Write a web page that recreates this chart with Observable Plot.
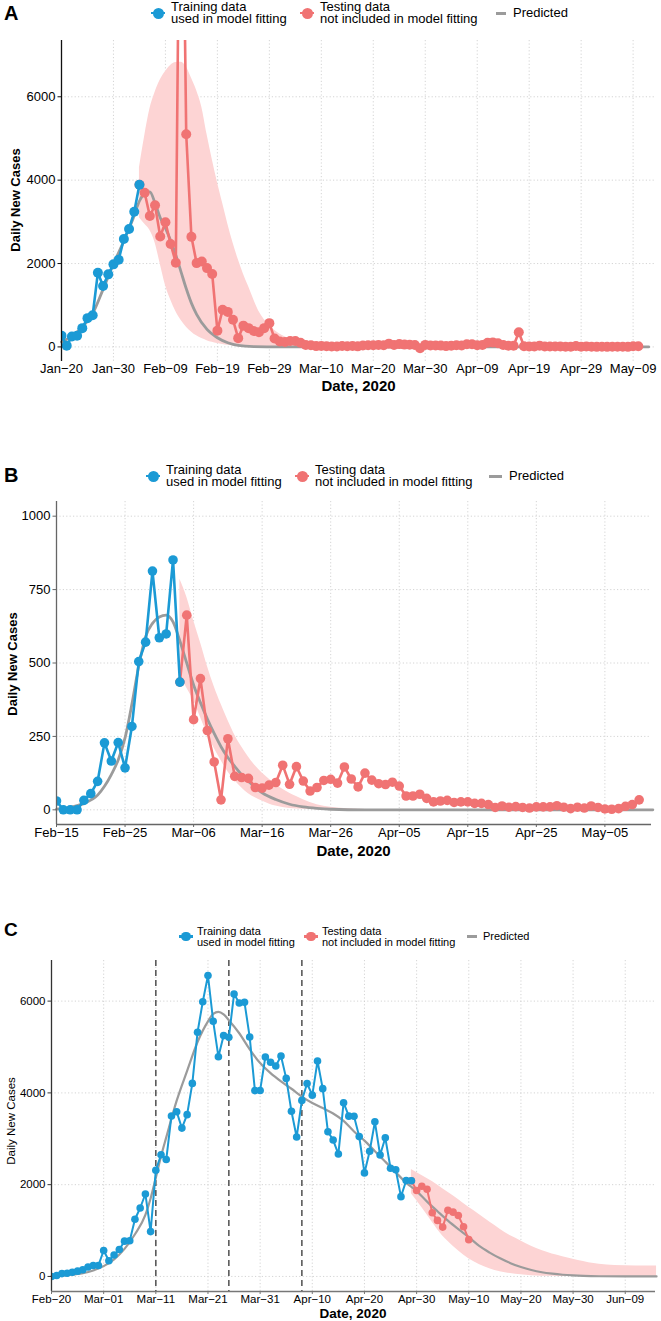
<!DOCTYPE html>
<html><head><meta charset="utf-8">
<script src="https://cdn.jsdelivr.net/npm/d3@7"></script>
<script src="https://cdn.jsdelivr.net/npm/@observablehq/plot@0.6"></script>
<style>
html,body{margin:0;padding:0;background:#fff;}
#root{position:relative;width:661px;height:1321px;overflow:hidden;font-family:"Liberation Sans",Arial,Helvetica,sans-serif;color:#000;}
.abs{position:absolute;white-space:nowrap;}
</style></head><body><div id="root"></div>
<script>
// ---------- Panel A (start 2020-01-20) ----------
const aStart = "2020-01-20";
const aCases = [270, 30, 250, 270, 450, 690, 760, 1780, 1460, 1740,
 1980, 2090, 2590, 2830, 3240, 3890, 3700, 3140, 3400, 2650,
 2990, 2470, 2020, 15150, 5100, 2640, 2010, 2050, 1890, 1750,
 390, 890, 840, 650, 210, 510, 450, 380, 350, 450,
 570, 200, 130, 120, 140, 140, 99, 44, 40, 19,
 24, 15, 8, 11, 20, 16, 21, 13, 34, 39,
 41, 46, 39, 78, 47, 67, 55, 54, 45, -30,
 48, 36, 35, 31, 19, 30, 39, 32, 62, 63,
 42, 46, 99, 108, 89, 46, 26, 27, 352, 16,
 12, 11, 30, 10, 10, 12, 11, 3, 6, 22,
 4, 12, 2, 1, 3, 1, 2, 2, 4, 1,
 14, 17];
const aTrainLast = 15;
const aPredDay = [0,2,4,6,8,10,12,14,15,16,17,18,19,20,21,22,23,24,25,26,28,30,32,34,37,42,113];
const aPredVal = [120,260,480,800,1380,1990,2540,3150,3500,3680,3720,3450,3100,2850,2550,2200,1800,1400,1050,780,420,220,100,35,8,0,0];
const aBandDay = [15,16,17,18,19,20,21,22,23,24,25,26,27,28,29,30,31,32,33,34,35,36,38,40,42,44,46,50,55,60,113];
const aBandHi = [4300,5050,5700,6100,6400,6600,6750,6820,6830,6720,6450,6150,5750,5100,4500,3950,3450,2950,2500,2100,1750,1450,850,520,310,190,110,50,15,0,0];
const aBandLo = [3100,2950,2800,2500,1990,1480,1130,850,640,480,360,265,200,150,110,80,58,40,25,16,10,6,2,0,0,0,0,0,0,0,0];
const aXTicks = ["2020-01-20","2020-01-30","2020-02-09","2020-02-19","2020-02-29","2020-03-10","2020-03-20","2020-03-30","2020-04-09","2020-04-19","2020-04-29","2020-05-09"];
const aXLabels = ["Jan−20","Jan−30","Feb−09","Feb−19","Feb−29","Mar−10","Mar−20","Mar−30","Apr−09","Apr−19","Apr−29","May−09"];
const aYTicks = [0,2000,4000,6000];

// ---------- Panel B (start 2020-02-15) ----------
const bStart = "2020-02-15";
const bCases = [30, 0, 0, 0, 32, 55, 97, 228, 166, 229,
 143, 284, 505, 571, 813, 586, 599, 851, 435, 663,
 307, 447, 270, 163, 34, 242, 114, 110, 107, 76,
 74, 84, 93, 152, 87, 147, 98, 64, 76, 100,
 104, 91, 146, 105, 78, 125, 101, 89, 86, 94,
 81, 47, 47, 53, 39, 27, 30, 32, 25, 27,
 27, 22, 22, 18, 8, 13, 9, 11, 8, 6,
 10, 10, 10, 14, 9, 4, 9, 6, 13, 8,
 3, 2, 4, 12, 18, 34];
const bTrainLast = 18;
const bPredDay = [0,2,4,6,7,8,9,10,11,12,13,14,15,16,17,18,19,20,21,22,23,24,25,26,27,28,30,32,34,36,38,40,45,87];
const bPredVal = [2,8,22,50,80,120,170,245,360,490,590,635,657,663,640,575,500,425,365,310,260,215,178,148,120,97,58,35,19,10,5,2,0,0];
const bBandDay = [18,19,20,21,22,23,24,25,26,27,28,29,30,31,33,35,37,39,41,44,50,87];
const bBandHi = [785,725,645,570,490,420,360,305,255,215,180,150,125,105,70,45,25,12,6,2,0,0];
const bBandLo = [460,415,373,315,259,210,168,130,100,75,55,41,30,20,8,3,1,0,0,0,0,0];
const bXTicks = ["2020-02-15","2020-02-25","2020-03-06","2020-03-16","2020-03-26","2020-04-05","2020-04-15","2020-04-25","2020-05-05"];
const bXLabels = ["Feb−15","Feb−25","Mar−06","Mar−16","Mar−26","Apr−05","Apr−15","Apr−25","May−05"];
const bYTicks = [0,250,500,750,1000];

// ---------- Panel C (start 2020-02-20) ----------
const cStart = "2020-02-20";
const cCases = [0, 20, 62, 70, 90, 115, 145, 205, 238, 240,
 566, 342, 466, 587, 769, 778, 1247, 1492, 1797, 977,
 2313, 2651, 2547, 3497, 3590, 3233, 3526, 4207, 5322, 5986,
 6557, 5560, 4789, 5249, 5210, 6153, 5959, 5974, 5217, 4050,
 4053, 4782, 4668, 4585, 4805, 4316, 3599, 3039, 3836, 4204,
 3951, 4694, 4092, 3153, 2972, 2667, 3786, 3493, 3491, 3047,
 2256, 2729, 3370, 2646, 3021, 2357, 2324, 1739, 2091, 2086,
 1872, 1965, 1900, 1389, 1221, 1075, 1444, 1401, 1327, 1083,
 802];
const cTrainLast = 69;
const cPredDay = [0,3,6,8,10,12,14,16,18,19,20,21,22,24,26,28,30,31,32,33,34,36,38,40,42,44,46,48,50,52,54,56,58,60,62,64,66,68,70,72,74,76,78,80,82,84,86,88,90,92,94,96,98,100,102,105,110,116];
const cPredVal = [5,30,70,130,225,370,600,920,1340,1700,2150,2620,3030,3830,4480,5110,5560,5720,5767,5710,5585,5300,4950,4650,4430,4250,4090,3920,3780,3670,3550,3390,3160,2960,2730,2500,2270,2040,1860,1630,1420,1215,1030,855,665,520,395,290,205,140,92,60,37,22,12,4,0,0];
const cBandDay = [69,71,73,75,77,79,81,83,85,87,89,91,93,95,97,99,101,103,105,108,112,116];
const cBandHi = [2330,2200,2070,1910,1760,1590,1430,1270,1110,950,830,710,610,530,460,400,345,300,265,240,230,225];
const cBandLo = [1800,1500,1180,880,660,470,320,210,130,80,50,25,10,3,0,0,0,0,0,0,0,0];
const cXTicks = ["2020-02-20","2020-03-01","2020-03-11","2020-03-21","2020-03-31","2020-04-10","2020-04-20","2020-04-30","2020-05-10","2020-05-20","2020-05-30","2020-06-09"];
const cXLabels = ["Feb−20","Mar−01","Mar−11","Mar−21","Mar−31","Apr−10","Apr−20","Apr−30","May−10","May−20","May−30","Jun−09"];
const cYTicks = [0,2000,4000,6000];
const cDashed = ["2020-03-11","2020-03-25","2020-04-08"];

const legendLabels = [["Training data","used in model fitting"],["Testing data","not included in model fitting"],"Predicted"];

// ---------- styling ----------
const BLUE = "#1B9AD5", RED = "#F07373", PINK = "#FDD4D4", GREY = "#9B9B9B", GRID = "#cfcfcf";
const FONT = '"Liberation Sans", Arial, Helvetica, sans-serif';
const DAY = 864e5;
const root = document.getElementById("root");

function makePanel(p) {
  const t0 = Date.parse(p.start + "T00:00:00Z");
  const at = i => new Date(t0 + i * DAY);
  const train = p.cases.slice(0, p.trainLast + 1).map((v, i) => ({date: at(i), v}));
  const test = p.cases.slice(p.trainLast).map((v, i) => ({date: at(i + p.trainLast), v}));
  const pred = p.predDay.map((d, i) => ({date: at(d), v: p.predVal[i]}));
  const band = p.bandDay.map((d, i) => ({date: at(d), lo: p.bandLo[i], hi: p.bandHi[i]}));
  const xt = p.xTicks.map(s => new Date(s + "T00:00:00Z"));
  const lab = new Map(xt.map((d, i) => [+d, p.xLabels[i]]));
  const marks = [
    Plot.ruleX(xt, {stroke: GRID, strokeWidth: 0.9, strokeDasharray: "1.2,2.2"}),
    Plot.ruleY(p.yTicks, {stroke: GRID, strokeWidth: 0.9, strokeDasharray: "1.2,2.2"}),
    Plot.areaY(band, {x: "date", y1: "lo", y2: "hi", fill: PINK, curve: "monotone-x"})
  ];
  if (p.dashed) marks.push(Plot.ruleX(p.dashed.map(s => new Date(s + "T00:00:00Z")), {stroke: "#5a5a5a", strokeWidth: 1.6, strokeDasharray: "6,4"}));
  marks.push(
    Plot.line(pred, {x: "date", y: "v", stroke: GREY, strokeWidth: p.lw + 0.2, curve: "monotone-x"}),
    Plot.line(test, {x: "date", y: "v", stroke: RED, strokeWidth: p.lw, clip: true}),
    Plot.dot(test, {x: "date", y: "v", r: p.r, fill: RED, clip: true}),
    Plot.line(train, {x: "date", y: "v", stroke: BLUE, strokeWidth: p.lw, clip: true}),
    Plot.dot(train, {x: "date", y: "v", r: p.r, fill: BLUE, clip: true}),
    Plot.ruleX([at(0)], {stroke: p.yAxisColor, strokeWidth: 1.3}),
    Plot.axisY(p.yTicks, {tickSize: 3.5, tickPadding: 2.5, tickFormat: d => String(d), label: null, stroke: p.yAxisColor}),
    Plot.axisX(xt, {tickSize: p.xTickSize, tickPadding: p.xTickPadding, tickFormat: d => lab.get(+d), label: null, stroke: p.xAxisColor || "#555"})
  );
  if (p.xAxisLine) marks.push(Plot.ruleY([p.yDomain[0]], {stroke: p.xAxisColor, strokeWidth: 1.3}));
  const svg = Plot.plot({
    width: 661, height: p.height,
    marginTop: p.mt, marginBottom: p.mb, marginLeft: p.ml, marginRight: p.mr,
    style: {fontFamily: FONT, fontSize: p.fs + "px", color: "#000", background: "transparent", overflow: "visible"},
    x: {type: "utc", domain: [at(0), at(p.span)]},
    y: {domain: p.yDomain},
    marks
  });
  svg.style.position = "absolute";
  svg.style.left = "0px";
  svg.style.top = p.top + "px";
  root.appendChild(svg);
}

makePanel({start: aStart, cases: aCases, trainLast: aTrainLast, predDay: aPredDay, predVal: aPredVal,
  bandDay: aBandDay, bandLo: aBandLo, bandHi: aBandHi, xTicks: aXTicks, xLabels: aXLabels, yTicks: aYTicks,
  top: 0, height: 395, mt: 40, mb: 34, ml: 61, mr: 5, span: 114.5, yDomain: [-350, 7350],
  fs: 13, lw: 2.6, r: 5, yAxisColor: "#111", xTickSize: 0, xTickPadding: 2.5, xAxisLine: false});

makePanel({start: bStart, cases: bCases, trainLast: bTrainLast, predDay: bPredDay, predVal: bPredVal,
  bandDay: bBandDay, bandLo: bBandLo, bandHi: bBandHi, xTicks: bXTicks, xLabels: bXLabels, yTicks: bYTicks,
  top: 460, height: 393, mt: 41, mb: 29, ml: 56, mr: 10, span: 86.8, yDomain: [-50, 1050],
  fs: 13, lw: 2.6, r: 4.8, yAxisColor: "#666", xAxisColor: "#666", xTickSize: 3, xTickPadding: 0.5, xAxisLine: true});

makePanel({start: cStart, cases: cCases, trainLast: cTrainLast, predDay: cPredDay, predVal: cPredVal,
  bandDay: cBandDay, bandLo: cBandLo, bandHi: cBandHi, xTicks: cXTicks, xLabels: cXLabels, yTicks: cYTicks,
  dashed: cDashed,
  top: 915, height: 406, mt: 45, mb: 30, ml: 51, mr: 6, span: 115.8, yDomain: [-328, 6885],
  fs: 11.5, lw: 2, r: 3.8, yAxisColor: "#333", xAxisColor: "#777", xTickSize: 3, xTickPadding: 0.5, xAxisLine: true});

// ---------- HTML overlays: letters, legends, axis titles ----------
function textTop(baseline, fs, lh) { return baseline - ((lh - 1.117 * fs) / 2 + 0.905 * fs); }
function addText(txt, left, top, fs, lh, weight) {
  const d = document.createElement("div");
  d.className = "abs";
  d.style.left = left + "px"; d.style.top = top + "px";
  d.style.fontSize = fs + "px"; d.style.lineHeight = lh + "px";
  d.style.fontWeight = weight || "normal";
  d.innerHTML = txt;
  root.appendChild(d);
  return d;
}
function addBox(left, top, w, h, color, radius) {
  const d = document.createElement("div");
  d.className = "abs";
  Object.assign(d.style, {left: left + "px", top: top + "px", width: w + "px", height: h + "px", background: color, borderRadius: radius || "0"});
  root.appendChild(d);
}
function legend(cy, fs, lh, blueX, redX, greyX0, greyX1, r) {
  const cap = 0.716 * fs;
  const b1 = cy - (lh - cap) / 2;
  const tTop = textTop(b1, fs, lh);
  const dotTextGap = 13 * fs / 13;
  [[blueX, BLUE, legendLabels[0]], [redX, RED, legendLabels[1]]].forEach(([x, c, l]) => {
    addBox(x - 7, cy - 1.2, 14, 2.4, c);
    addBox(x - r, cy - r, 2 * r, 2 * r, c, "50%");
    addText(l[0] + "<br>" + l[1], x + dotTextGap, tTop, fs, lh);
  });
  addBox(greyX0, cy - 1.5, greyX1 - greyX0, 3, GREY);
  addText(legendLabels[2], greyX1 + 7 * fs / 13, textTop(cy + cap / 2, fs, lh), fs, lh);
}
function centered(txt, cx, cy, fs, weight, rotate) {
  const d = addText(txt, cx, cy, fs, fs, weight);
  d.style.transform = "translate(-50%,-50%)" + (rotate ? " rotate(-90deg)" : "");
}

// panel letters
addText("A", 4, textTop(20, 20, 20), 20, 20, "bold");
addText("B", 4, textTop(481.5, 20, 20), 20, 20, "bold");
addText("C", 4, textTop(936.5, 19, 19), 19, 19, "bold");

// legends
legend(13.3, 13, 12.5, 158, 307, 496, 506, 5.5);
legend(476, 13, 12.5, 153, 302, 489, 502, 5.5);
legend(936.5, 11, 10.5, 186, 311, 467, 477, 4.6);

// axis titles
centered("Daily New Cases", 15, 200, 13, "bold", true);
centered("Date, 2020", 358.5, 384.5, 15, "bold");
centered("Daily New Cases", 12, 663.5, 13, "bold", true);
centered("Date, 2020", 353.5, 849.5, 15, "bold");
centered("Daily New Cases", 12, 1121, 11.5, "normal", true);
centered("Date, 2020", 353, 1313.5, 13.5, "bold");
</script></body></html>
